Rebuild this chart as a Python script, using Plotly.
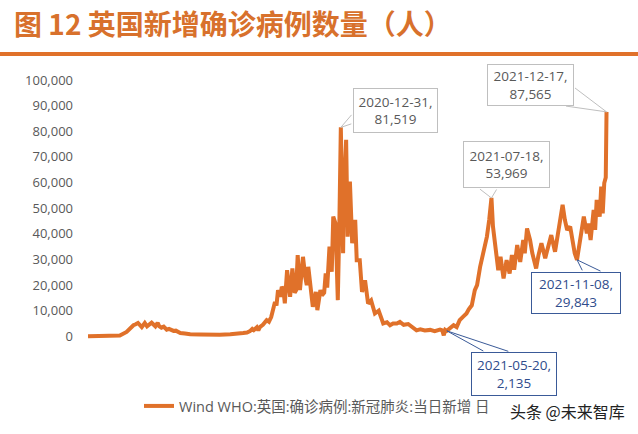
import plotly.graph_objects as go

# ---------------- data ----------------
dates = [
    "2020-02-01", "2020-03-01", "2020-03-14", "2020-03-23", "2020-03-27", "2020-04-01", "2020-04-04",
    "2020-04-07", "2020-04-12", "2020-04-14", "2020-04-16", "2020-04-19", "2020-04-21", "2020-04-25",
    "2020-04-30", "2020-05-03", "2020-05-05", "2020-05-08", "2020-05-11", "2020-05-15", "2020-05-18",
    "2020-05-24", "2020-05-27", "2020-06-02", "2020-06-08", "2020-06-15", "2020-06-28", "2020-07-11",
    "2020-07-24", "2020-08-07", "2020-08-16", "2020-08-24", "2020-08-29", "2020-09-02", "2020-09-05",
    "2020-09-07", "2020-09-11", "2020-09-13", "2020-09-15", "2020-09-19", "2020-09-24", "2020-09-27",
    "2020-09-30", "2020-10-03", "2020-10-05", "2020-10-07", "2020-10-09", "2020-10-12", "2020-10-14",
    "2020-10-16", "2020-10-18", "2020-10-21", "2020-10-23", "2020-10-25", "2020-10-28", "2020-10-31",
    "2020-11-02", "2020-11-04", "2020-11-07", "2020-11-11", "2020-11-14", "2020-11-16", "2020-11-18",
    "2020-11-20", "2020-11-22", "2020-11-24", "2020-11-28", "2020-11-30", "2020-12-04", "2020-12-06",
    "2020-12-09", "2020-12-11", "2020-12-13", "2020-12-16", "2020-12-19", "2020-12-21", "2020-12-24",
    "2020-12-26", "2020-12-27", "2020-12-29", "2020-12-31", "2021-01-03", "2021-01-04", "2021-01-07",
    "2021-01-09", "2021-01-12", "2021-01-15", "2021-01-19", "2021-01-21", "2021-01-25", "2021-01-28",
    "2021-02-01", "2021-02-05", "2021-02-09", "2021-02-14", "2021-02-19", "2021-02-25", "2021-03-02",
    "2021-03-06", "2021-03-10", "2021-03-15", "2021-03-19", "2021-03-24", "2021-03-30", "2021-04-05",
    "2021-04-10", "2021-04-15", "2021-04-21", "2021-04-28", "2021-05-04", "2021-05-11", "2021-05-14",
    "2021-05-16", "2021-05-18", "2021-05-20", "2021-05-24", "2021-05-29", "2021-06-02", "2021-06-06",
    "2021-06-10", "2021-06-15", "2021-06-18", "2021-06-22", "2021-06-26", "2021-06-29", "2021-07-03",
    "2021-07-07", "2021-07-12", "2021-07-15", "2021-07-18", "2021-07-20", "2021-07-23", "2021-07-27",
    "2021-07-30", "2021-08-03", "2021-08-07", "2021-08-11", "2021-08-14", "2021-08-17", "2021-08-21",
    "2021-08-25", "2021-08-29", "2021-08-31", "2021-09-03", "2021-09-07", "2021-09-10", "2021-09-15",
    "2021-09-18", "2021-09-22", "2021-09-27", "2021-10-01", "2021-10-05", "2021-10-10", "2021-10-14",
    "2021-10-17", "2021-10-20", "2021-10-23", "2021-10-26", "2021-10-30", "2021-11-02", "2021-11-05",
    "2021-11-08", "2021-11-11", "2021-11-14", "2021-11-17", "2021-11-21", "2021-11-23", "2021-11-26",
    "2021-11-30", "2021-12-02", "2021-12-04", "2021-12-08", "2021-12-10", "2021-12-12", "2021-12-14",
    "2021-12-16", "2021-12-17",
]
cases = [
    0, 10, 300, 1700, 2900, 4300, 4700,
    5200, 3600, 4600, 5200, 3900, 4500, 5300,
    3900, 5300, 4000, 3400, 3800, 2600, 2900,
    2100, 2200, 1300, 1100, 800, 700, 600,
    650, 800, 900, 1300, 1500, 2000, 2900,
    2400, 3500, 2300, 3600, 4500, 6300, 5700,
    7500, 10800, 13400, 12000, 18000, 15500, 19300,
    18500, 12900, 25800, 21000, 15400, 26500, 17000,
    18000, 31700, 18000, 31000, 23200, 20000, 27100,
    22000, 15400, 11500, 17300, 10200, 18000, 16000,
    17000, 24500, 19000, 35000, 25200, 46700, 44000,
    30000, 14100, 42800, 81519, 32400, 54500, 76700,
    38900, 60400, 36300, 45400, 29700, 29700, 17300,
    21900, 12800, 14000, 8900, 10000, 5000, 5500,
    4300, 5000, 5000, 5600, 4500, 4800, 3400,
    2300, 2700, 2300, 2500, 2000, 2600, 2300,
    400, 2500, 2135, 3000, 4300, 3600, 6300,
    7500, 8900, 10500, 12100, 18000, 20000, 27100,
    32400, 38900, 45400, 53969, 42800, 35000, 25800,
    31000, 22600, 29700, 24500, 31700, 26000, 35600,
    29000, 37600, 32400, 42100, 37600, 32400, 26500,
    31500, 36300, 30500, 35000, 39500, 33000, 40200,
    45400, 51300, 45400, 41500, 42800, 36300, 32400,
    29843, 36300, 40200, 46700, 40200, 44000, 37600,
    49300, 41500, 53200, 46700, 58400, 48000, 59800,
    62000, 87565,
]
series_name = "Wind WHO:英国:确诊病例:新冠肺炎:当日新增 日"
y_ticks = [0, 10000, 20000, 30000, 40000, 50000, 60000, 70000, 80000, 90000, 100000]
callout_dates = ["2020-12-31", "2021-07-18", "2021-12-17", "2021-11-08", "2021-05-20"]

title_text = "图 12 英国新增确诊病例数量（人）"
watermark = "头条 @未来智库"

# ---------------- style ----------------
W, H = 638, 434
ML, MR, MT, MB = 80, 23, 80, 90
PW, PH = W - ML - MR, H - MT - MB
ORANGE = "#E0712A"
TITLE_C = "#D8712C"
GREY_T = "#595959"
GREY_B = "#BFBFBF"
BLUE_T = "#2F4C8C"
BLUE_B = "#3A5A98"
LAT = "Open Sans, Noto Sans CJK SC, sans-serif"


def px2x(px):
    return (px - ML) / PW


def py2y(py):
    return (H - MB - py) / PH


fig = go.Figure(
    go.Scatter(
        x=dates, y=cases, mode="lines", name=series_name,
        line=dict(color=ORANGE, width=4),
    )
)

fig.update_layout(
    width=W, height=H,
    margin=dict(l=ML, r=MR, t=MT, b=MB, autoexpand=False),
    paper_bgcolor="white", plot_bgcolor="white",
    showlegend=True,
    legend=dict(
        orientation="h", xref="container", yref="container",
        x=139 / W, y=1 - 406 / H, xanchor="left", yanchor="middle",
        font=dict(family=LAT, size=14.5, color=GREY_T),
        bgcolor="rgba(0,0,0,0)", itemwidth=30,
    ),
    title=dict(
        text=title_text, xref="container", yref="container",
        x=14 / W, y=1 - 25 / H, xanchor="left", yanchor="middle",
        font=dict(family="Noto Sans CJK SC", size=28, color=TITLE_C, weight="bold"),
    ),
    xaxis=dict(
        type="date", range=["2020-01-21 10:00", "2021-12-28 05:00"],
        visible=False, showgrid=False, zeroline=False,
    ),
    yaxis=dict(
        range=[-3000, 100000], tickvals=y_ticks, tickformat=",d",
        showgrid=False, zeroline=False, showline=False, ticks="",
        ticklabelstandoff=6,
        tickfont=dict(family=LAT, size=13, color=GREY_T),
    ),
)

# orange rule under the title
fig.add_shape(
    type="line", xref="paper", yref="paper",
    x0=px2x(0), x1=px2x(W), y0=py2y(54), y1=py2y(54),
    line=dict(color=ORANGE, width=4),
)

# callouts: (box centre offset, box size, wedge corner offsets, colours)
callout_style = {
    "2020-12-31": dict(ax=55, ay=-17, w=83, h=43, wedge=[(12, -14), (12, -4)], tc=GREY_T, bc=GREY_B),
    "2021-07-18": dict(ax=15, ay=-33, w=85, h=45, wedge=[(-13, -10), (6, -10)], tc=GREY_T, bc=GREY_B),
    "2021-12-17": dict(ax=-76, ay=-27, w=85, h=40, wedge=[(-33, -25), (-42, -6)], tc=GREY_T, bc=GREY_B),
    "2021-11-08": dict(ax=-1, ay=33, w=88, h=40, wedge=[(6, 12), (25, 12)], tc=BLUE_T, bc=BLUE_B),
    "2021-05-20": dict(ax=67, ay=43, w=84, h=42, wedge=[(38, 21), (63, 21)], tc=BLUE_T, bc=BLUE_B),
}

for d in callout_dates:
    v = cases[dates.index(d)]
    s = callout_style[d]
    for wx, wy in s["wedge"]:
        fig.add_annotation(
            x=d, y=v, xref="x", yref="y", text="", showarrow=True,
            arrowhead=0, arrowwidth=1, arrowcolor=s["bc"],
            ax=wx, ay=wy, standoff=0, startstandoff=0,
        )
    fig.add_annotation(
        x=d, y=v, xref="x", yref="y",
        text=f"{d},<br>{v:,}", showarrow=True, arrowcolor="rgba(0,0,0,0)",
        ax=s["ax"], ay=s["ay"], width=s["w"], height=s["h"],
        bordercolor=s["bc"], borderwidth=1, borderpad=0, bgcolor="white",
        font=dict(family=LAT, size=13.5, color=s["tc"]), align="center",
    )

# watermark
fig.add_annotation(
    xref="paper", yref="paper", x=px2x(567), y=py2y(411), text=watermark,
    showarrow=False, xanchor="center", yanchor="middle",
    font=dict(family="Noto Sans CJK SC", size=16, color="#222222"),
)

fig.write_html("out.html")
